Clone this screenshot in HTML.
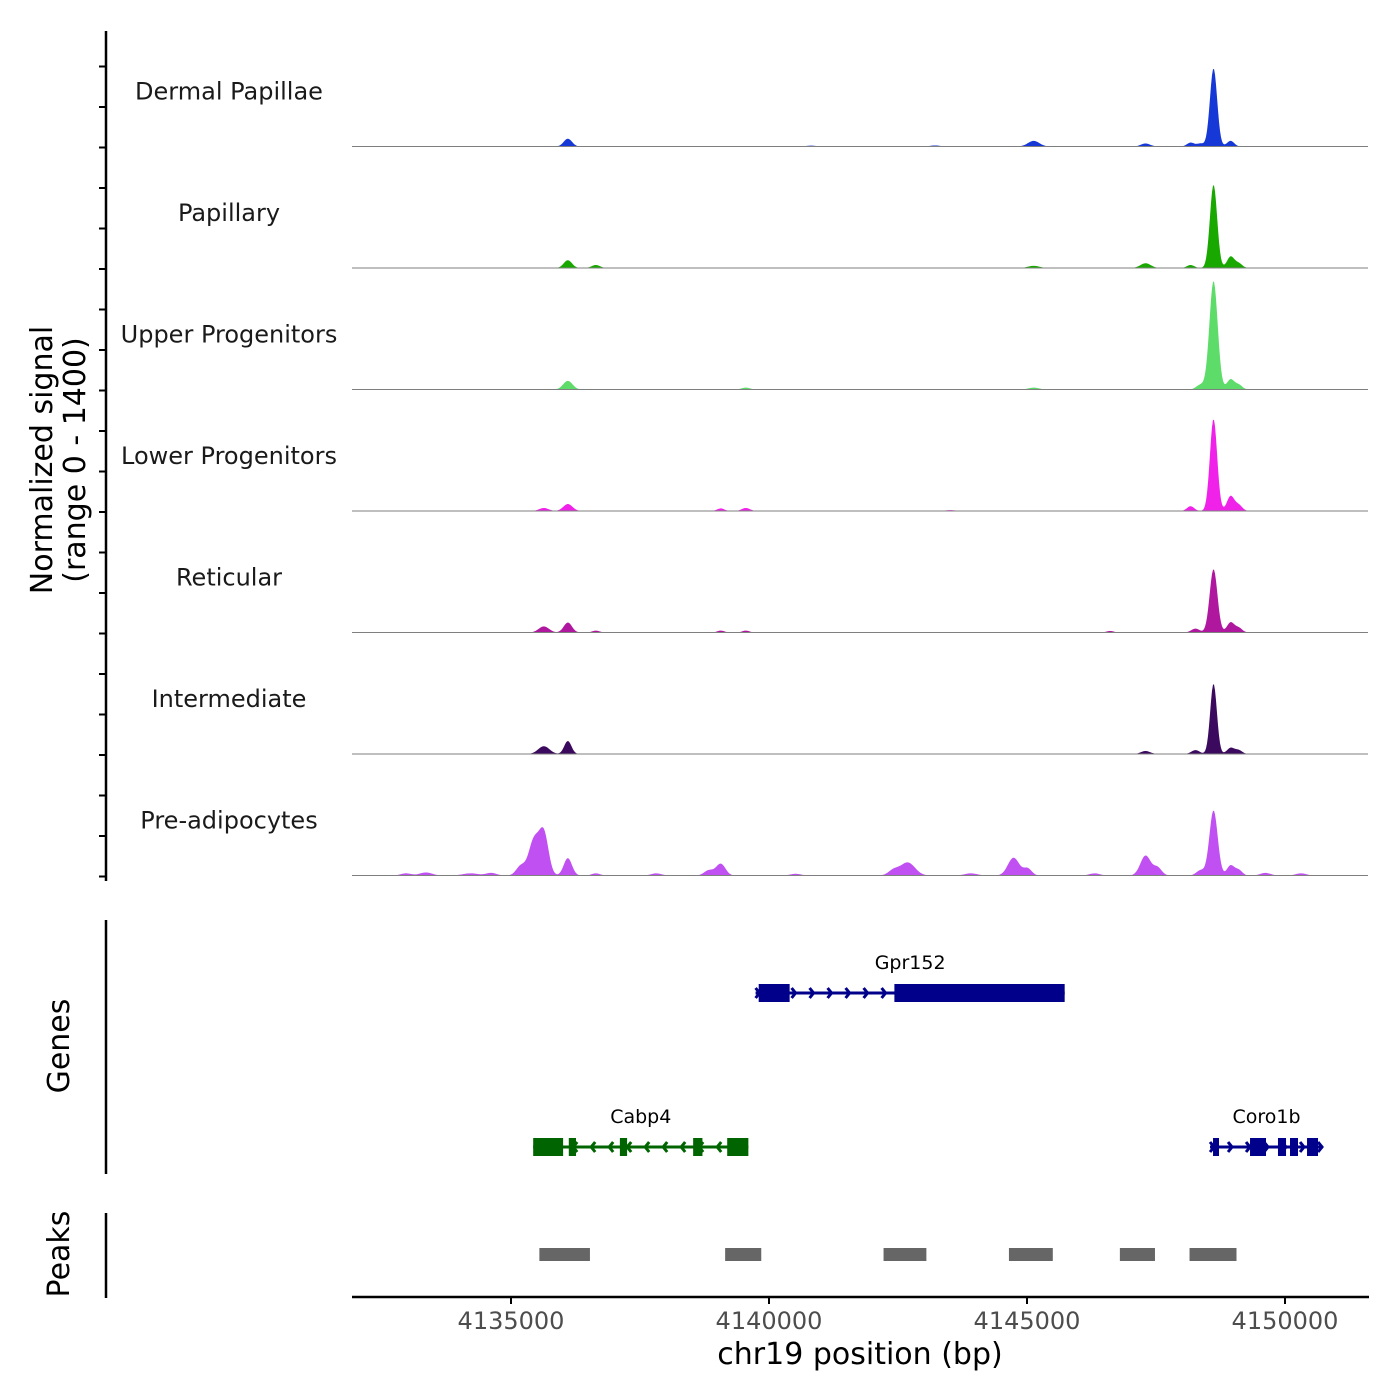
<!DOCTYPE html>
<html><head><meta charset="utf-8"><style>
html,body{margin:0;padding:0;background:#fff}
svg{display:block;font-family:"DejaVu Sans","Liberation Sans",sans-serif}
</style></head><body>
<svg id="chart" width="1400" height="1400" viewBox="0 0 1400 1400" xmlns="http://www.w3.org/2000/svg">
<rect width="1400" height="1400" fill="#fff"/>
<g id="tracks"></g>
<g id="genes"></g>
<g id="peaks"></g>
<g id="axes"></g>
</svg>
<script>
const NS="http://www.w3.org/2000/svg";
// ---- data ----
const xDomain=[4131900,4151600];
const xTicks=[4135000,4140000,4145000,4150000];
const trackNames=["Dermal Papillae","Papillary","Upper Progenitors","Lower Progenitors","Reticular","Intermediate","Pre-adipocytes"];
const trackColors=["#1538d6","#19a800","#5ddc6a","#f021e8","#b0179f","#3b0a5e","#c050f2"];
// peaks per track: [center bp, height (signal 0-1400), sigma bp]
const peaksDermal=[[4148605,900,70],[4136085,90,80],[4145117,65,110],[4147287,35,90],[4148935,65,70],[4148160,45,70],[4148353,35,70],[4140800,10,100],[4143200,12,100]];
const peaksPapillary=[[4148605,960,70],[4136085,90,80],[4136628,35,80],[4147287,55,100],[4148935,130,70],[4149090,55,70],[4148160,35,70],[4145117,25,110]];
const peaksUpper=[[4148605,1250,80],[4136085,100,90],[4148935,115,70],[4149090,55,70],[4148353,55,80],[4139535,22,80],[4145117,22,100]];
const peaksLower=[[4148605,1060,70],[4136085,80,90],[4148935,170,70],[4149090,70,70],[4148160,55,70],[4135620,35,90],[4139535,35,80],[4139050,30,70],[4143500,10,100]];
const peaksReticular=[[4148605,730,75],[4136085,115,80],[4135620,70,100],[4148935,115,70],[4149090,55,70],[4148255,45,80],[4136628,22,70],[4139050,22,70],[4139535,22,70],[4146600,18,70]];
const peaksIntermediate=[[4148605,810,65],[4136085,150,70],[4135620,90,110],[4147287,35,90],[4148935,70,70],[4149090,45,70],[4148255,45,80]];
const peaksPre=[[4148605,750,80],[4135426,400,100],[4135620,480,90],[4135174,110,90],[4136085,200,80],[4139050,135,90],[4138820,60,90],[4142675,150,140],[4142400,60,100],[4144728,205,110],[4145000,80,80],[4147287,230,100],[4147520,90,80],[4148935,115,70],[4149090,65,70],[4148353,60,80],[4133333,35,120],[4132946,25,100],[4134200,25,150],[4137800,25,100],[4140500,20,100],[4143900,25,120],[4146300,25,100],[4149612,30,100],[4150300,25,100],[4134600,30,100],[4136628,25,80]];
const trackPeaks=[peaksDermal,peaksPapillary,peaksUpper,peaksLower,peaksReticular,peaksIntermediate,peaksPre];
const geneNames=["Gpr152","Cabp4","Coro1b"];
const geneStrand=["+","-","+"];
const geneSpan=[[4139740,4145730],[4135430,4139600],[4148547,4150736]];
const geneExons=[[[4139800,4140400],[4142430,4145730]],[[4135430,4136010],[4136120,4136260],[4137110,4137250],[4138530,4138710],[4139190,4139600]],[[4148605,4148721],[4149322,4149632],[4149864,4150020],[4150097,4150252],[4150427,4150640]]];
const geneRow=[0,1,1];
const geneColors=["#00008b","#006400","#00008b"];
const peakRegions=[[4135550,4136530],[4139150,4139850],[4142220,4143050],[4144650,4145500],[4146800,4147480],[4148150,4149060]];
// ---- scales ----
const X0=352,X1=1368;
const xs=v=>511+(v-4135000)*258/5000;
const trackTop=25,trackH=121.5,yMax=1400;
function el(t,a,p){const e=document.createElementNS(NS,t);for(const k in a)e.setAttribute(k,a[k]);p.appendChild(e);return e;}
const T=document.getElementById("tracks");
trackNames.forEach((name,i)=>{
  const base=trackTop+trackH*(i+1);
  const ys=v=>base-v/yMax*trackH;
  let d="M"+X0+","+base;
  for(let px=X0;px<=X1;px+=1){
    const bp=xDomain[0]+(px-X0)/(X1-X0)*(xDomain[1]-xDomain[0]);
    let s=0;for(const [c,h,sg] of trackPeaks[i]){s+=h*Math.exp(-0.5*((bp-c)/sg)**2);}
    d+=" L"+px+","+ys(s).toFixed(2);
  }
  d+=" L"+X1+","+base+" Z";
  const p=el("path",{d:d,fill:trackColors[i]},T);
  
  
  const l=el("line",{x1:X0,x2:X1,y1:base,y2:base,stroke:"#7f7f7f","stroke-width":1},T);
  
  
  const t=el("text",{x:229,y:base-47,"text-anchor":"middle","font-size":24,fill:"#1a1a1a"},T);
  t.textContent=name;
  
  
});
// genes
const G=document.getElementById("genes");
geneNames.forEach((g,i)=>{
  const y=geneRow[i]?1147:993,c=geneColors[i];
  const a=xs(geneSpan[i][0]),b=xs(geneSpan[i][1]);
  const ln=el("line",{x1:a,x2:b,y1:y,y2:y,stroke:c,"stroke-width":3},G);
  
  
  for(let x=a+4;x<b;x+=18){
    const dir=geneStrand[i]=="+"?1:-1;
    const ar=el("path",{d:`M${x-4*dir},${y-5} L${x},${y} L${x-4*dir},${y+5}`,stroke:c,"stroke-width":3,fill:"none"},G);
    
    
  }
  geneExons[i].forEach(e=>{
    const r=el("rect",{x:xs(e[0]),y:y-9,width:xs(e[1])-xs(e[0]),height:18,fill:c},G);
    
    
  });
  const t=el("text",{x:(a+b)/2,y:y-24,"text-anchor":"middle","font-size":19,fill:"#000"},G);
  t.textContent=g;
  
  
});
// peaks
const P=document.getElementById("peaks");
peakRegions.forEach(r=>{
  const e=el("rect",{x:xs(r[0]),y:1248,width:xs(r[1])-xs(r[0]),height:13,fill:"#666666"},P);
  
  
});
// axes
const A=document.getElementById("axes");
function L(x1,y1,x2,y2,w,n){const e=el("line",{x1,y1,x2,y2,stroke:"#000","stroke-width":w},A);}
L(106,31,106,881,2.5,"signal-y-axis");
for(let y=66.5;y<880;y+=40.5)L(99,y,106,y,2,"y-tick");
L(106,920,106,1174,2.5,"genes-y-axis");
L(106,1213,106,1298,2.5,"peaks-y-axis");
L(352,1297,1369,1297,2.5,"x-axis");
xTicks.forEach(v=>{
  L(xs(v),1297,xs(v),1304,2,"x-tick");
  const t=el("text",{x:xs(v),y:1329,"text-anchor":"middle","font-size":24,fill:"#4d4d4d"},A);
  t.textContent=v;
  
  
});
function txt(s,x,y,fs,rot,n){const t=el("text",{x,y,"text-anchor":"middle","font-size":fs,fill:"#000",transform:rot?`rotate(-90 ${x} ${y})`:""},A);t.textContent=s;}
txt("chr19 position (bp)",860,1364,30,false,"x-axis-title");
txt("Normalized signal",52,460,30,true,"y-axis-title");
txt("(range 0 - 1400)",85,460,30,true,"y-axis-range");
txt("Genes",69,1046,30,true,"genes-title");
txt("Peaks",69,1254,30,true,"peaks-title");
</script>
</body></html>
